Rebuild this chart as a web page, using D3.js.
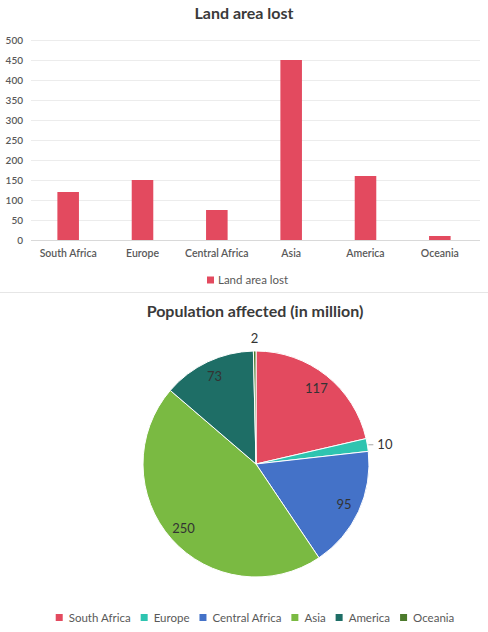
<!DOCTYPE html>
<html>
<head>
<meta charset="utf-8">
<script src="https://cdn.jsdelivr.net/npm/d3@7"></script>
<style>
  html, body { margin: 0; padding: 0; background: #fff; }
  svg { display: block; font-family: Lato, "Open Sans", sans-serif; }
</style>
</head>
<body>
<svg id="chart" width="488" height="632"></svg>
<script>
// bar chart data
var barCategories = ["South Africa", "Europe", "Central Africa", "Asia", "America", "Oceania"];
var landAreaLost = [120, 150, 75, 450, 160, 10];
var yTickValues = [0, 50, 100, 150, 200, 250, 300, 350, 400, 450, 500];

// pie chart data
var pieRegions = ["South Africa", "Europe", "Central Africa", "Asia", "America", "Oceania"];
var populationAffected = [117, 10, 95, 250, 73, 2];
var pieColors = ["#e34a5f", "#2ec4b0", "#4472c8", "#7aba42", "#1e6e66", "#4c7a2c"];

var svg = d3.select("#chart");
var textGray = "#595959";

/**
 * Bar chart: land area lost
 */
function drawBars() {
    var x = d3.scaleBand().domain(barCategories).range([31, 477]).paddingInner(0.71).paddingOuter(0.355);
    var y = d3.scaleLinear().domain([0, 500]).range([240, 40]);

    svg.append("text")
        .attr("x", 244).attr("y", 19)
        .attr("text-anchor", "middle")
        .attr("font-size", 16).attr("font-weight", "bold")
        .attr("fill", "#3a3a3a")
        .text("Land area lost");

    // gridlines
    svg.append("g").selectAll("line")
        .data(yTickValues)
        .join("line")
        .attr("x1", 31).attr("x2", 480)
        .attr("y1", function (d) { return y(d) + 0.5; })
        .attr("y2", function (d) { return y(d) + 0.5; })
        .attr("stroke", function (d) { return d == 0 ? "#d9d9d9" : "#ececec"; })
        .attr("stroke-width", 1);

    // y axis labels, no line
    var yAxis = d3.axisLeft(y).tickValues(yTickValues).tickSize(0).tickPadding(0);
    var gy = svg.append("g").attr("transform", "translate(23,0)").call(yAxis);
    gy.select(".domain").remove();
    gy.selectAll("text").attr("font-size", 10).attr("font-weight", 600)
        .attr("fill", textGray).attr("font-family", "Lato, sans-serif");

    svg.append("g").selectAll("rect")
        .data(landAreaLost)
        .join("rect")
        .attr("x", function (d, i) { return x(barCategories[i]); })
        .attr("y", function (d) { return y(d); })
        .attr("width", x.bandwidth())
        .attr("height", function (d) { return y(0) - y(d); })
        .attr("fill", "#e34a5f");

    var xAxis = d3.axisBottom(x).tickSize(0).tickPadding(0);
    var gx = svg.append("g").attr("transform", "translate(0,250)").call(xAxis);
    gx.select(".domain").remove();
    gx.selectAll("text").attr("font-size", 10.5).attr("font-weight", 600)
        .attr("fill", textGray).attr("font-family", "Lato, sans-serif");

    // legend
    svg.append("rect").attr("x", 207).attr("y", 276.5).attr("width", 7).attr("height", 7).attr("fill", "#e34a5f");
    svg.append("text").attr("x", 218).attr("y", 284)
        .attr("font-size", 11.5).attr("fill", textGray)
        .text("Land area lost");

    // divider between the two charts
    svg.append("line").attr("x1", 0).attr("x2", 488).attr("y1", 292.5).attr("y2", 292.5)
        .attr("stroke", "#e6e6e6");
}

/**
 * Pie chart: population affected
 */
function drawPie() {
    var cx = 256, cy = 464, r = 113;

    svg.append("text")
        .attr("x", 255).attr("y", 317)
        .attr("text-anchor", "middle")
        .attr("font-size", 16).attr("font-weight", "bold")
        .attr("fill", "#3a3a3a")
        .text("Population affected (in million)");

    var pie = d3.pie().sort(null).value(function (d) { return d; });
    var arcs = pie(populationAffected);
    var arc = d3.arc().innerRadius(0).outerRadius(r);
    var labelArc = d3.arc().innerRadius(97).outerRadius(97);

    var g = svg.append("g").attr("transform", "translate(" + cx + "," + cy + ")");

    g.selectAll("path")
        .data(arcs)
        .join("path")
        .attr("d", arc)
        .attr("fill", function (d, i) { return pieColors[i]; })
        .attr("stroke", "#fff")
        .attr("stroke-width", 1);

    // big slices get their label inside, the two small ones outside
    arcs.forEach(function (d, i) {
        var mid = (d.startAngle + d.endAngle) / 2;
        var share = d.value / d3.sum(populationAffected);
        if (share > 0.05) {
            var p = labelArc.centroid(d);
            g.append("text")
                .attr("x", p[0]).attr("y", p[1])
                .attr("text-anchor", "middle").attr("dy", "0.35em")
                .attr("font-size", 13).attr("fill", "#333")
                .text(d.value);
        } else if (mid > Math.PI) {
            // near the top, label sits just above the rim
            var px = Math.sin(mid) * (r + 13), py = -Math.cos(mid) * (r + 13);
            g.append("text")
                .attr("x", px).attr("y", py)
                .attr("text-anchor", "middle").attr("dy", "0.35em")
                .attr("font-size", 13).attr("fill", "#333")
                .text(d.value);
        } else {
            // short leader line on the right
            var ax = Math.sin(mid) * (r + 1), ay = -Math.cos(mid) * (r + 1);
            g.append("line")
                .attr("x1", ax).attr("y1", ay)
                .attr("x2", ax + 5).attr("y2", ay)
                .attr("stroke", "#a6a6a6");
            g.append("text")
                .attr("x", ax + 9).attr("y", ay)
                .attr("dy", "0.35em")
                .attr("font-size", 13).attr("fill", "#333")
                .text(d.value);
        }
    });

    // legend centred under the pie
    var legend = svg.append("g");
    var cursor = 0;
    pieRegions.forEach(function (name, i) {
        var item = legend.append("g").attr("transform", "translate(" + cursor + ",0)");
        item.append("rect").attr("x", 0).attr("y", -4).attr("width", 7).attr("height", 7).attr("fill", pieColors[i]);
        var t = item.append("text").attr("x", 13).attr("y", 3.5)
            .attr("font-size", 11.5).attr("fill", textGray)
            .text(name);
        cursor += 13 + t.node().getComputedTextLength() + 10;
    });
    var total = cursor - 10;
    legend.attr("transform", "translate(" + (255 - total / 2) + ",618)");
}

drawBars();
drawPie();
</script>
</body>
</html>
